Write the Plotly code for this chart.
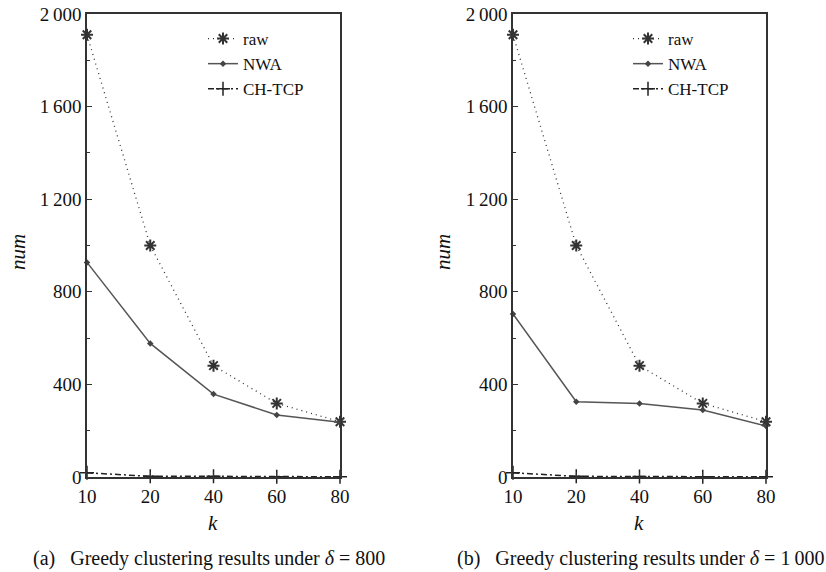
import plotly.graph_objects as go

k_labels = ["10", "20", "40", "60", "80"]

raw_a = [1910, 1000, 481, 318, 239]
nwa_a = [927, 577, 358, 268, 236]
ch_a = [18, 3, 3, 1, 1]

raw_b = [1910, 1000, 481, 318, 239]
nwa_b = [704, 325, 318, 289, 220]
ch_b = [18, 3, 2, 1, 1]

y_tickvals = [0, 400, 800, 1200, 1600, 2000]
y_ticktext = ["0", "400", "800", "1\u2009200", "1\u2009600", "2\u2009000"]
y_minor = [200, 600, 1000, 1400, 1800]

captions = ["(a)\u00a0\u00a0\u00a0Greedy clustering results\u2009under <i>δ</i> = 800",
            "(b)\u00a0\u00a0\u00a0Greedy clustering results\u2009under <i>δ</i> = 1\u2009000"]

FONT = "Liberation Serif"
W, H = 826, 572

fig = go.Figure()

panels = [(raw_a, nwa_a, ch_a, "x", "y", "legend"),
          (raw_b, nwa_b, ch_b, "x2", "y2", "legend2")]

for raw, nwa, ch, xa, ya, lg in panels:
    fig.add_trace(go.Scatter(x=k_labels, y=raw, name="raw", mode="lines+markers",
                             xaxis=xa, yaxis=ya, legend=lg, cliponaxis=False,
                             line=dict(color="#333", width=1.3, dash="1px,4px"),
                             marker=dict(symbol="asterisk-open", size=10,
                                         line=dict(color="#111", width=2))))
    fig.add_trace(go.Scatter(x=k_labels, y=nwa, name="NWA", mode="lines+markers",
                             xaxis=xa, yaxis=ya, legend=lg, cliponaxis=False,
                             line=dict(color="#555", width=1.5),
                             marker=dict(symbol="diamond", size=5, color="#444")))
    fig.add_trace(go.Scatter(x=k_labels, y=ch, name="CH-TCP", mode="lines+markers",
                             xaxis=xa, yaxis=ya, legend=lg, cliponaxis=False,
                             line=dict(color="#222", width=1.5, dash="6px,3px,2px,3px"),
                             marker=dict(symbol="cross-thin-open", size=10,
                                         line=dict(color="#222", width=1.5))))

ydom = [1 - 477 / H, 1 - 14 / H]
xdoms = [[87 / W, 340 / W], [513 / W, 766 / W]]

axis_common = dict(showline=True, linecolor="#333", linewidth=1.5, mirror=True,
                   showgrid=False, zeroline=False, automargin=False,
                   tickfont=dict(family=FONT, size=19, color="#111"))

fig.update_layout(
    width=W, height=H, margin=dict(l=0, r=0, t=0, b=0, autoexpand=False),
    paper_bgcolor="white", plot_bgcolor="white",
    font=dict(family=FONT, size=18, color="#111"),
    xaxis=dict(domain=xdoms[0], anchor="y", type="category", range=[0, 4],
               ticks="inside", ticklen=5, tickcolor="#333", ticklabelstandoff=1,
               **axis_common),
    yaxis=dict(domain=ydom, anchor="x", range=[0, 2000], tickvals=y_tickvals,
               ticktext=y_ticktext, ticks="inside", ticklen=5, tickcolor="#333",
               minor=dict(tickvals=y_minor, ticks="inside", ticklen=3, tickcolor="#333"),
               **axis_common),
    xaxis2=dict(domain=xdoms[1], anchor="y2", type="category", range=[0, 4],
                ticks="inside", ticklen=5, tickcolor="#333", ticklabelstandoff=1,
                **axis_common),
    yaxis2=dict(domain=ydom, anchor="x2", range=[0, 2000], tickvals=y_tickvals,
                ticktext=y_ticktext, ticks="inside", ticklen=5, tickcolor="#333",
                minor=dict(tickvals=y_minor, ticks="inside", ticklen=3, tickcolor="#333"),
                **axis_common),
    legend=dict(x=203 / W, y=1 - 21 / H, xanchor="left", yanchor="top",
                bgcolor="rgba(0,0,0,0)", font=dict(family=FONT, size=17),
                tracegroupgap=0, itemwidth=30),
    legend2=dict(x=628 / W, y=1 - 21 / H, xanchor="left", yanchor="top",
                 bgcolor="rgba(0,0,0,0)", font=dict(family=FONT, size=17),
                 tracegroupgap=0, itemwidth=30),
)

annos = []
for i, (xc, nx) in enumerate([(213, 18), (639, 443)]):
    annos.append(dict(text="<i>k</i>", x=xc / W, y=1 - 523 / H, xref="paper", yref="paper",
                      xanchor="center", yanchor="middle",
                      showarrow=False, font=dict(family=FONT, size=21)))
    annos.append(dict(text="<i>num</i>", x=nx / W, y=1 - 252 / H, xref="paper", yref="paper",
                      xanchor="center", yanchor="middle",
                      showarrow=False, textangle=-90, font=dict(family=FONT, size=21)))
for cap, xc in zip(captions, [209, 640]):
    annos.append(dict(text=cap, x=xc / W, y=1 - 558 / H, xref="paper", yref="paper",
                      xanchor="center", yanchor="middle",
                      showarrow=False, font=dict(family=FONT, size=20)))
fig.update_layout(annotations=annos)

fig.write_html("out.html", config={"displayModeBar": False},
               post_script="document.body.style.margin='0';document.body.style.overflow='hidden';")
